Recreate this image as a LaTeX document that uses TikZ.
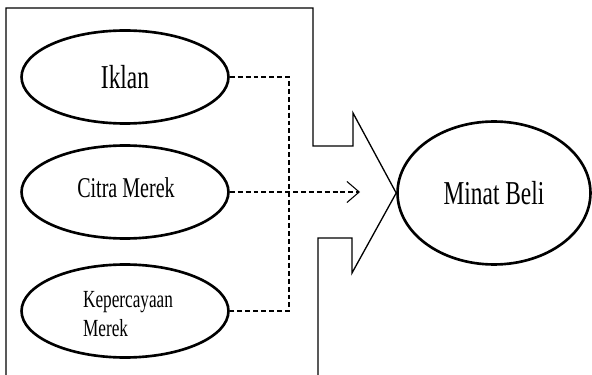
\documentclass[tikz,border=0pt]{standalone}
\usepackage{fontspec}
\setmainfont[FakeStretch=0.7]{Liberation Serif}
\usetikzlibrary{shapes.geometric,arrows.meta}
\begin{document}
\begin{tikzpicture}[x=0.02cm, y=-0.02cm,
				var/.style={ellipse, draw, line width=1.5pt, inner sep=0pt, minimum width=4.14cm, minimum height=1.86cm},
				target/.style={var, minimum width=3.86cm, minimum height=2.86cm},
				frame/.style={line width=0.75pt, line join=miter},
				link/.style={dashed, line width=0.6pt, dash pattern=on 2.8pt off 1.7pt},
				big/.style={font=\fontsize{19}{22}\selectfont},
				mid/.style={font=\fontsize{16.3}{19}\selectfont},
				small/.style={font=\fontsize{14}{17}\selectfont, align=left}
				]
				\useasboundingbox (0,0) rectangle (592,375);
				\node[var, big] (iklan) at (125,77) {Iklan};
				\node[var] (citra) at (125,192) {};
				\node[mid] at (126,188) {Citra Merek};
				\node[var] (percaya) at (125,311) {};
				\node[small] at (128,314) {Kepercayaan\\Merek};
				\node[target, big] (minat) at (494,193) {Minat Beli};
				\draw[frame] (6,375) -- (6,8) -- (313,8) -- (313,146) -- (353,146) -- (353,113)
					-- (minat.west) -- (352,273) -- (352,238) -- (318,238) -- (318,375);
				\coordinate (merge) at (289,192);
				\coordinate (head) at (360,192);
				\draw[link] (iklan.east) -| (merge) |- (percaya.east);
				\draw[link, -{Straight Barb[length=7pt, width=12pt, line width=0.6pt]}] (citra.east) -- (head);
			\end{tikzpicture}
\end{document}
